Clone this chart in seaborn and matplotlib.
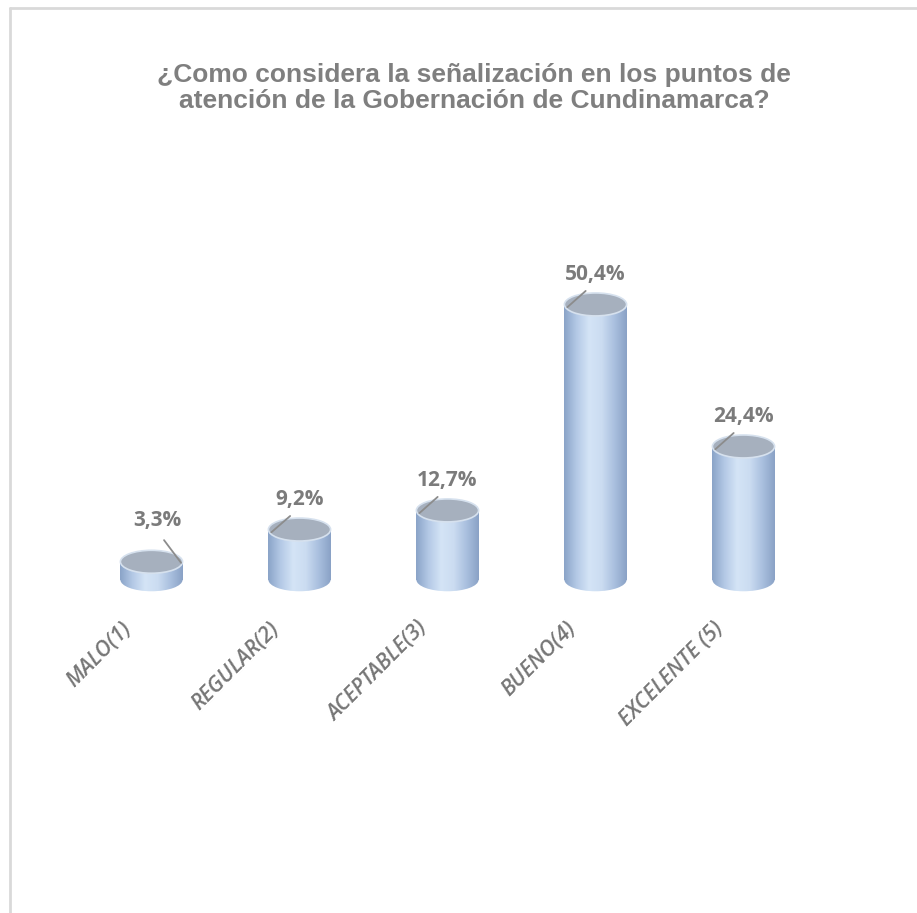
import numpy as np
import matplotlib
matplotlib.use("Agg")
import matplotlib.pyplot as plt
import seaborn as sns
from matplotlib.patches import Ellipse
from matplotlib.colors import LinearSegmentedColormap
from matplotlib.transforms import ScaledTranslation

categorias = ["MALO(1)", "REGULAR(2)", "ACEPTABLE(3)", "BUENO(4)", "EXCELENTE (5)"]
porcentajes = [3.3, 9.2, 12.7, 50.4, 24.4]
etiquetas = ["3,3%", "9,2%", "12,7%", "50,4%", "24,4%"]
lado_linea = ["right", "left", "left", "left", "left"]

titulo = "¿Como considera la señalización en los puntos de\natención de la Gobernación de Cundinamarca?"

sns.set_theme(style="white")
plt.rcParams["font.family"] = ["Liberation Sans", "DejaVu Sans"]

fig = plt.figure(figsize=(9.17, 9.13), dpi=100)
# eje y de -3 a 60, base de las barras en y=580 px
ax = fig.add_axes([0.0845, 0.347, 0.807, 0.377])

ancho = 0.42
sns.barplot(x=categorias, y=porcentajes, color="#b3c8e4", width=ancho, ax=ax,
            edgecolor="none", saturation=1)

cmap = LinearSegmentedColormap.from_list(
    "cil", ["#8aa4c8", "#b4c9e6", "#d4e4f6", "#cbdcf1", "#aac0df", "#8aa2c6"])
grad = np.linspace(0, 1, 200).reshape(1, -1)
alto_elipse = 4.2

for i, (barra, v) in enumerate(zip(ax.patches, porcentajes)):
    x0 = barra.get_x()
    w = barra.get_width()
    xc = x0 + w / 2
    im = ax.imshow(grad, extent=[x0, x0 + w, -alto_elipse, v], aspect="auto",
                   cmap=cmap, zorder=3, interpolation="bilinear")
    im.set_clip_path(barra)
    fondo = Ellipse((xc, 0), w, alto_elipse, facecolor="none", edgecolor="none", zorder=3)
    ax.add_patch(fondo)
    im2 = ax.imshow(grad, extent=[x0, x0 + w, -alto_elipse, v], aspect="auto",
                    cmap=cmap, zorder=3, interpolation="bilinear")
    im2.set_clip_path(fondo)
    tapa = Ellipse((xc, v), w, alto_elipse, facecolor="#a6b0be", edgecolor="#d6e1ee",
                   linewidth=1.2, zorder=4)
    ax.add_patch(tapa)

    if lado_linea[i] == "right":
        ax.annotate(etiquetas[i], xy=(xc + 0.2, v - 0.2), xytext=(xc + 0.04, v + 7.5),
                    ha="center", va="center", fontsize=15, fontweight="bold",
                    color="#7b7b7b", family=["Open Sans", "DejaVu Sans"], zorder=5,
                    arrowprops=dict(arrowstyle="-", color="#8c8c8c", lw=1.3,
                                    shrinkA=5, shrinkB=0, relpos=(0.5, 0)))
    else:
        ax.annotate(etiquetas[i], xy=(xc - 0.19, v - 0.5), xytext=(xc, v + 5.5),
                    ha="center", va="center", fontsize=15, fontweight="bold",
                    color="#7b7b7b", family=["Open Sans", "DejaVu Sans"], zorder=5,
                    arrowprops=dict(arrowstyle="-", color="#8c8c8c", lw=1.3,
                                    shrinkA=3, shrinkB=0, relpos=(0.45, 0)))

ax.set_xlim(-0.5, 4.5)
ax.set_ylim(-3, 60)
ax.set_yticks([])
ax.set_xlabel("")
ax.set_ylabel("")
sns.despine(ax=ax, left=True, bottom=True)
ax.tick_params(axis="x", length=0, pad=21)
for lbl in ax.get_xticklabels():
    lbl.set_rotation(45)
    lbl.set_ha("right")
    lbl.set_va("center")
    lbl.set_rotation_mode("anchor")
    lbl.set_fontsize(15.5)
    lbl.set_fontstyle("italic")
    lbl.set_fontweight("semibold")
    lbl.set_color("#767676")
    lbl.set_family(["Open Sans", "DejaVu Sans"])
    lbl.set_transform(lbl.get_transform() + ScaledTranslation(-0.23, 0, fig.dpi_scale_trans))

fig.text(0.517, 0.904, titulo, ha="center", va="center", fontsize=19, fontweight="bold",
         color="#7f7f7f", linespacing=1.1)

# marco gris arriba e izquierda
fig.add_artist(plt.Line2D([0.0105, 0.0105], [0, 0.991], color="#d9d9d9", lw=2,
                          transform=fig.transFigure))
fig.add_artist(plt.Line2D([0.0105, 1], [0.991, 0.991], color="#d9d9d9", lw=2,
                          transform=fig.transFigure))

fig.savefig("out.png", dpi=100)
